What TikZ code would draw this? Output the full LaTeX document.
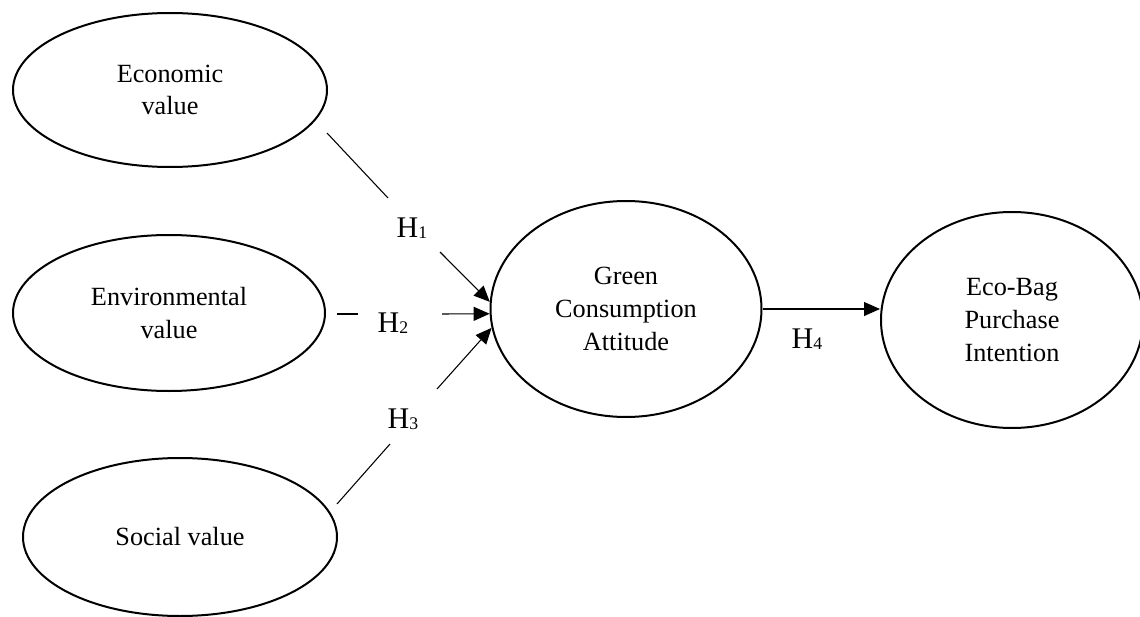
\documentclass[tikz,border=0pt]{standalone}
\usepackage{fontspec}
\setmainfont{Liberation Serif}
\usetikzlibrary{shapes.geometric,arrows.meta}
\newcommand{\hyp}[1]{H\raisebox{-1pt}{\fontsize{13.3pt}{14pt}\selectfont #1}}
\begin{document}
\begin{tikzpicture}[x=0.75pt,y=-0.75pt,
  construct/.style={draw,ellipse,line width=1.5pt,inner sep=0pt,align=center,
    font=\fontsize{19.7pt}{24.6pt}\selectfont},
  link/.style={line width=0.8pt},
  arr/.style={line width=0.8pt,-{Triangle[length=12pt,width=10.5pt]}},
  hlabel/.style={anchor=base,inner sep=0pt,font=\fontsize{22.5pt}{26pt}\selectfont}]
\useasboundingbox (0,0) rectangle (1140,617);
% constructs
\node[construct,minimum width=235.5pt,minimum height=115.5pt] (econ) at (170,90) {Economic\\value};
\node[construct,minimum width=234pt,minimum height=117pt] (envi) at (169,313) {Environmental\\value};
\node[construct,minimum width=235.5pt,minimum height=118.5pt] (soc) at (180,537) {Social value};
\node[construct,minimum width=203.25pt,minimum height=162pt] (green) at (626,309) {Green\\Consumption\\Attitude};
\node[construct,minimum width=196.5pt,minimum height=162pt] (bag) at (1012,320) {Eco-Bag\\Purchase\\Intention};
% hypothesis labels
\node[hlabel] (h1) at (412,237) {\hyp{1}};
\node[hlabel] (h2) at (393,332) {\hyp{2}};
\node[hlabel] (h3) at (403,428) {\hyp{3}};
\node[hlabel] (h4) at (807,348) {\hyp{4}};
% connector ends
\coordinate (c1a) at (327,133);
\coordinate (c1b) at (388,198);
\coordinate (c1c) at (440,252);
\coordinate (c2a) at (337,314);
\coordinate (c2b) at (358,314);
\coordinate (c2c) at (442,314);
\coordinate (c3a) at (337,504);
\coordinate (c3b) at (390,444);
\coordinate (c3c) at (437,389);
% connectors
\draw[link] (c1a) -- (c1b);
\draw[arr] (c1c) -- (green.177);
\draw[link] (c2a) -- (c2b);
\draw[arr] (c2c) -- (green.182);
\draw[link] (c3a) -- (c3b);
\draw[arr] (c3c) -- (green.188);
\draw[arr] (green.east) -- (green.east -| bag.west);
\end{tikzpicture}
\end{document}
